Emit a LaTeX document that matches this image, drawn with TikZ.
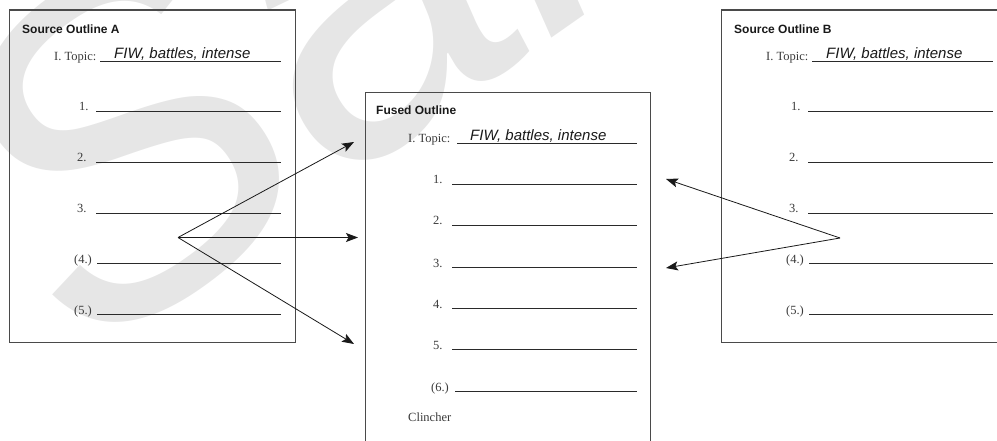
\documentclass[tikz,border=0pt]{standalone}
\usepackage{fontspec}
\setmainfont{Liberation Serif}
\newfontfamily\sansf{Liberation Sans}
\usetikzlibrary{arrows.meta}
\definecolor{boxgray}{HTML}{4A4A4A}
\definecolor{linec}{HTML}{2A2A2A}
\definecolor{txtc}{HTML}{3A3A3A}
\definecolor{wmark}{HTML}{E6E6E6}
\begin{document}
\begin{tikzpicture}[x=1pt,y=-1pt,
  box/.style={draw=boxgray,line width=1.1pt,fill=none,inner sep=0},
  rule/.style={draw=linec,line width=0.9pt},
  lbl/.style={anchor=base west,inner sep=0,text=txtc,font=\fontsize{12.5}{14}\selectfont},
  ttl/.style={anchor=base west,inner sep=0,text=black!90,font=\sansf\bfseries\fontsize{12}{14}\selectfont},
  hand/.style={anchor=base west,inner sep=0,text=black!90,font=\sansf\itshape\fontsize{15}{17}\selectfont},
  arr/.style={-{Stealth[length=12pt,width=9pt,inset=2.5pt]},line width=0.8pt,draw=black!90}]
\useasboundingbox (0,0) rectangle (997,441);
\clip (0,0) rectangle (997,441);
% watermark
\node (wm) [text=wmark,font=\sansf\itshape\fontsize{460}{460}\selectfont,rotate=35,anchor=base west,inner sep=0] at (85,365) {Sample};
% boxes
\node (boxA) [box,anchor=north west,minimum width=286pt,minimum height=332pt] at (8.5,9.5) {};
\node (boxF) [box,anchor=north west,minimum width=285.5pt,minimum height=370pt] at (364.5,92) {};
\node (boxB) [box,anchor=north west,minimum width=300pt,minimum height=332pt] at (720.5,9.5) {};
% Source outline A and B
\foreach \off/\nm/\t in {0/A/A,712/B/B}{
  \begin{scope}[xshift=\off pt]
    \node (title\nm) [ttl] at (22,34) {Source Outline \t};
    \node (topic\nm) [lbl] at (54,61) {I. Topic:};
    \node (fiw\nm) [hand] at (114,58.5) {FIW, battles, intense};
    \draw[rule] (100,61) -- (281,61);
    \node (one\nm) [lbl] at (79,111) {1.};
    \draw[rule] (96,111) -- (281,111);
    \node (two\nm) [lbl] at (77,162) {2.};
    \draw[rule] (96,162) -- (281,162);
    \node (three\nm) [lbl] at (77,213) {3.};
    \draw[rule] (96,213) -- (281,213);
    \node (four\nm) [lbl] at (74,263) {(4.)};
    \draw[rule] (97,263) -- (281,263);
    \node (five\nm) [lbl] at (74,314) {(5.)};
    \draw[rule] (97,314) -- (281,314);
  \end{scope}
}
% Fused outline
\node (titleF) [ttl] at (376,115) {Fused Outline};
\node (topicF) [lbl] at (408,143) {I. Topic:};
\node (fiwF) [hand] at (470,140.5) {FIW, battles, intense};
\draw[rule] (457,143) -- (637,143);
\node (oneF) [lbl] at (433,184) {1.};
\draw[rule] (452,184) -- (637,184);
\node (twoF) [lbl] at (433,225) {2.};
\draw[rule] (452,225) -- (637,225);
\node (threeF) [lbl] at (433,267) {3.};
\draw[rule] (452,267) -- (637,267);
\node (fourF) [lbl] at (433,308) {4.};
\draw[rule] (452,308) -- (637,308);
\node (fiveF) [lbl] at (433,349) {5.};
\draw[rule] (452,349) -- (637,349);
\node (sixF) [lbl] at (431,391) {(6.)};
\draw[rule] (455,391) -- (637,391);
\node (clinch) [lbl] at (408,421) {Clincher};
% arrows
\coordinate (hubA) at (178,237.5);
\coordinate (tA1) at (354,142);
\coordinate (tA2) at (358,237.5);
\coordinate (tA3) at (354,344);
\draw[arr] (hubA) -- (tA1);
\draw[arr] (hubA) -- (tA2);
\draw[arr] (hubA) -- (tA3);
\coordinate (hubB) at (840,238);
\coordinate (tB1) at (666,179);
\coordinate (tB2) at (666,268);
\draw[arr] (hubB) -- (tB1);
\draw[arr] (hubB) -- (tB2);
\end{tikzpicture}
\end{document}
